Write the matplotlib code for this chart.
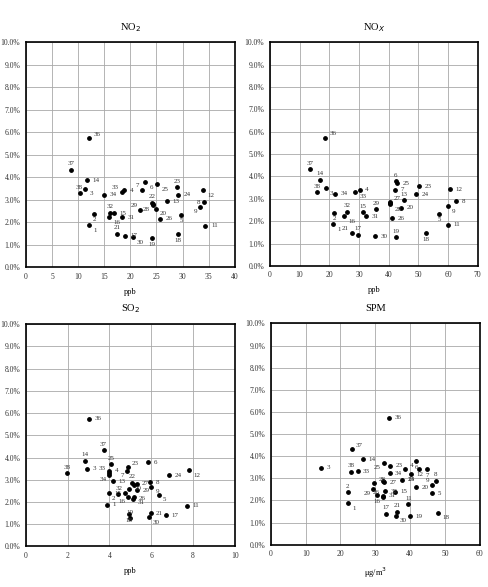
import numpy as np
import matplotlib
matplotlib.use("Agg")
import matplotlib.pyplot as plt
from matplotlib.ticker import FuncFormatter

plt.rcParams['font.family'] = ['Liberation Serif', 'DejaVu Serif']

# site numbers (10 and 35 do not appear)
sites = [1, 2, 3, 4, 5, 6, 7, 8, 9, 11, 12, 13, 14, 15, 16, 17, 18, 19, 20,
         21, 22, 23, 24, 25, 26, 27, 28, 29, 30, 31, 32, 33, 34, 36, 37, 38]

# share (%) - same for every panel
share = [1.87, 2.38, 3.49, 3.41, 2.33, 3.78, 3.41, 2.89, 2.69, 1.84, 3.43, 2.93,
         3.86, 2.40, 2.23, 1.40, 1.45, 1.28, 2.60, 1.49, 2.87, 3.56, 3.21, 3.70,
         2.14, 2.82, 2.77, 2.53, 1.32, 2.22, 2.42, 3.32, 3.22, 5.74, 4.33, 3.29]

no2 = [12.1, 13.1, 11.4, 18.8, 29.7, 22.9, 22.2, 34.1, 33.4, 34.4, 33.9, 27.0,
       11.7, 16.8, 15.9, 18.9, 29.2, 24.1, 24.9, 17.5, 24.2, 28.9, 29.2, 25.2,
       25.7, 24.4, 24.3, 21.9, 20.5, 18.4, 16.1, 18.4, 14.9, 12.1, 8.7, 10.3]

nox = [21.3, 21.6, 18.9, 30.2, 57.0, 42.4, 42.2, 62.6, 60.0, 59.9, 60.5, 45.0,
       17.0, 31.4, 25.1, 29.7, 52.5, 42.6, 44.2, 27.5, 40.3, 50.1, 49.2, 42.7,
       41.2, 40.4, 40.5, 35.7, 35.4, 32.4, 25.9, 28.8, 22.1, 18.6, 13.5, 15.9]

so2 = [3.89, 4.42, 2.93, 4.00, 6.36, 5.85, 4.85, 5.93, 6.01, 7.72, 7.82, 4.15,
       2.81, 3.99, 4.91, 6.70, 4.94, 4.97, 4.94, 5.97, 5.10, 4.88, 6.87, 4.08,
       5.15, 5.30, 5.20, 5.33, 5.88, 5.17, 4.77, 3.96, 3.99, 3.03, 3.72, 1.99]

spm = [22.1, 22.1, 14.5, 38.6, 46.2, 41.8, 44.9, 47.4, 46.4, 39.5, 42.7, 37.6,
       26.5, 35.7, 30.5, 33.1, 48.0, 40.0, 41.6, 36.3, 32.3, 34.2, 40.3, 32.4,
       32.1, 32.5, 29.7, 29.4, 35.9, 32.2, 32.8, 24.9, 34.1, 34.0, 23.3, 23.0]

# where each label sits relative to its dot (default: right), None = hidden
pos_no2 = {36: 'ra', 37: 'a', 38: 'a', 3: 'rb', 33: 'la', 7: 'la', 6: 'rb',
           25: 'rb', 23: 'a', 12: 'rb', 8: 'l', 9: 'lb', 22: 'a', 28: 'lb',
           29: 'la', 20: 'rb', 5: 'b', 32: 'a', 16: 'rb', 2: 'b', 1: 'rb',
           21: 'a', 30: 'rb', 19: 'b', 18: 'b', 27: None}
pos_nox = {36: 'ra', 37: 'a', 14: 'a', 38: 'a', 3: 'rb', 33: 'rb', 32: 'a',
           16: 'rb', 2: 'b', 1: 'rb', 21: 'la', 17: 'a', 15: 'a', 29: 'a',
           19: 'a', 6: 'a', 27: 'ra', 28: 'rb', 13: 'a', 18: 'b', 9: 'rb',
           5: 'b', 22: None}
pos_so2 = {37: 'a', 14: 'a', 25: 'a', 38: 'a', 33: 'la', 34: 'lb', 23: 'ra',
           7: 'lb', 12: 'rb', 9: 'rb', 5: 'rb', 22: 'a', 2: 'lb', 16: 'lb',
           31: 'rb', 19: 'a', 18: 'b', 30: 'rb', 32: 'la', 28: None}
pos_spm = {37: 'ra', 38: 'a', 25: 'lb', 4: 'ra', 24: 'b', 6: 'b', 12: 'b',
           7: 'b', 28: 'ra', 29: 'lb', 9: 'la', 8: 'a', 2: 'a', 1: 'rb',
           16: 'b', 26: 'la', 11: 'a', 21: 'a', 17: 'a', 30: 'rb', 18: 'rb',
           22: None}

offsets = {'r': ((4, 0), 'left', 'center'), 'rb': ((3, -2), 'left', 'top'),
           'ra': ((3, 1), 'left', 'bottom'), 'a': ((0, 2.5), 'center', 'bottom'),
           'b': ((0, -2.5), 'center', 'top'), 'l': ((-3, 0), 'right', 'center'),
           'la': ((-2, 1.5), 'right', 'bottom'), 'lb': ((-2, -1.5), 'right', 'top')}

fig = plt.figure(figsize=(4.88, 5.87), dpi=100)

panels = [
    ([0.053, 0.545, 0.428, 0.383], no2, 40, 5, 'NO$_2$', 'ppb', pos_no2),
    ([0.553, 0.547, 0.426, 0.381], nox, 70, 10, 'NO$_X$', 'ppb', pos_nox),
    ([0.053, 0.069, 0.428, 0.379], so2, 10, 2, 'SO$_2$', 'ppb', pos_so2),
    ([0.555, 0.072, 0.428, 0.377], spm, 60, 10, 'SPM', 'μg/m$^3$', pos_spm),
]

for rect, xs, xmax, step, title, xlab, pos in panels:
    ax = fig.add_axes(rect)
    ax.scatter(xs, share, s=6, color='black', zorder=3)
    for s, x, y in zip(sites, xs, share):
        code = pos.get(s, 'r')
        if code is None:
            continue
        off, ha, va = offsets[code]
        ax.annotate(str(s), (x, y), xytext=off, textcoords='offset points',
                    ha=ha, va=va, fontsize=5, color='#333333')
    ax.set_xlim(0, xmax)
    ax.set_ylim(0, 10)
    ax.set_xticks(np.arange(0, xmax + 0.1, step))
    ax.set_yticks(np.arange(0, 10.1, 1))
    ax.yaxis.set_major_formatter(FuncFormatter(lambda v, p: f"{v:.1f}%"))
    ax.grid(True, color='#a8a8a8', linewidth=0.6)
    ax.set_axisbelow(True)
    ax.tick_params(length=0, labelsize=5.5, pad=4, colors='#333333')
    for sp in ax.spines.values():
        sp.set_linewidth(1.2)
    ax.set_title(title, fontsize=7.5, pad=9)
    ax.set_xlabel(xlab, fontsize=6, labelpad=5)

fig.savefig("out.png", dpi=100)
